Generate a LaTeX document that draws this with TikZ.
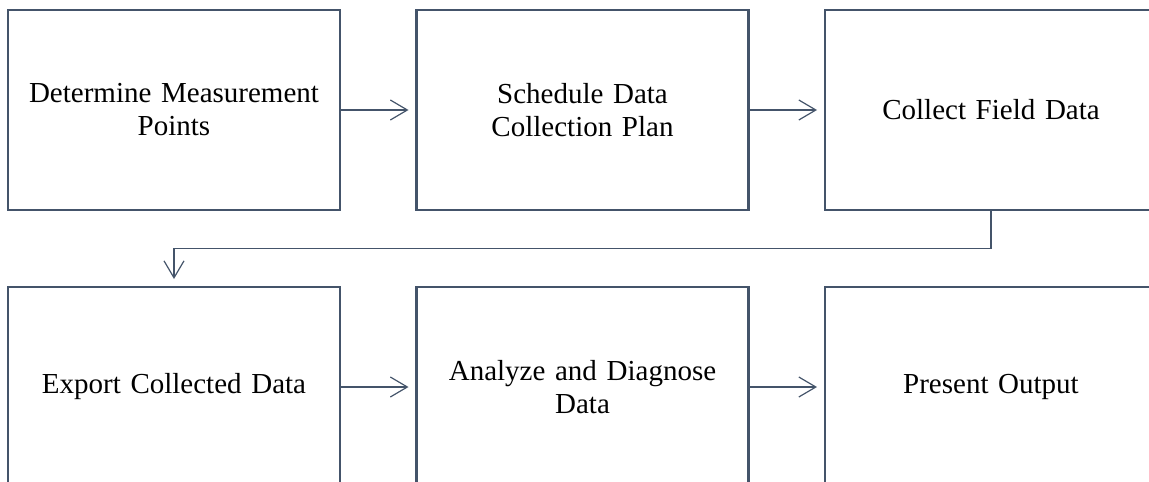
\documentclass[tikz,border=0pt]{standalone}
\usepackage{fontspec}
\setmainfont{Liberation Serif}
\usetikzlibrary{arrows.meta,positioning}
\definecolor{boxline}{HTML}{44546A}

\begin{document}
\begin{tikzpicture}[x=1pt,y=-1pt,
  procbox/.style={draw=boxline,line width=2.6pt,outer sep=0pt,
    minimum width=332pt,minimum height=200pt,text width=310pt,align=center,
    font=\fontsize{29}{33}\selectfont},
  flow/.style={draw=boxline,line width=1.2pt,shorten >=8pt,
    -{Straight Barb[length=17pt,width=20pt,line width=1.2pt]}}]
\useasboundingbox (0,0) rectangle (1149,482);
\node[procbox] (Points) at (174,110) {Determine Measurement\\Points};
\node[procbox,right=76.5pt of Points] (Schedule) {Schedule Data\\Collection Plan};
\node[procbox,right=76.5pt of Schedule] (Collect) {Collect Field Data};
\node[procbox,below=77pt of Points] (Export) {Export Collected Data};
\node[procbox,right=76.5pt of Export] (Analyze) {Analyze and Diagnose\\Data};
\node[procbox,right=76.5pt of Analyze] (Present) {Present Output};
% connectors
\draw[flow] (Points) -- (Schedule);
\draw[flow] (Schedule) -- (Collect);
\draw[flow] (Collect.south) -- ++(0,38.5) -| (Export.north);
\draw[flow] (Export) -- (Analyze);
\draw[flow] (Analyze) -- (Present);
\end{tikzpicture}
\end{document}
